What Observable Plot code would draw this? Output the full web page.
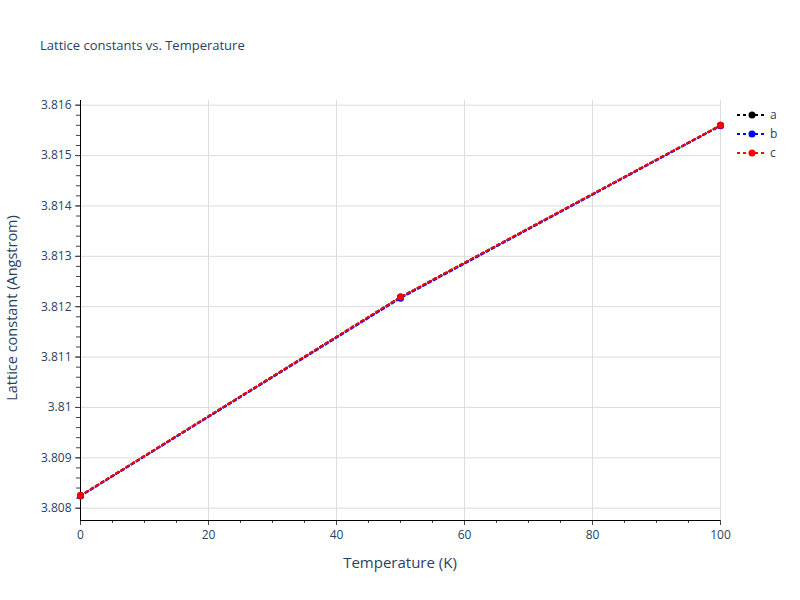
<!DOCTYPE html>
<html>
<head>
<meta charset="utf-8">
<script src="https://cdn.jsdelivr.net/npm/d3@7"></script>
<script src="https://cdn.jsdelivr.net/npm/@observablehq/plot@0.6"></script>
<style>
  html, body { margin: 0; padding: 0; background: #fff; }
  #wrap { position: relative; width: 800px; height: 600px; font-family: "Open Sans", verdana, arial, sans-serif; color: #2a3f5f; }
  #wrap svg.plot { position: absolute; left: 0; top: 0; }
  .title { position: absolute; left: 40px; top: 36px; font-size: 13px; white-space: nowrap; }
  .xlabel { position: absolute; left: 0; width: 800px; top: 552px; text-align: center; font-size: 15px; }
  .ylabel { position: absolute; left: 11px; top: 308px; font-size: 14.5px; white-space: nowrap; transform: translate(-50%, -50%) rotate(-90deg); }
  #legend { position: absolute; left: 733px; top: 105px; }
</style>
</head>
<body>
<div id="wrap">
  <div class="title">Lattice constants vs. Temperature</div>
  <div class="xlabel">Temperature (K)</div>
  <div class="ylabel">Lattice constant (Angstrom)</div>
  <div id="legend"></div>
</div>
<script>
const temperatures = [0, 50, 100];
const seriesA = [3.80825, 3.81219, 3.81560];
const seriesB = [3.80824, 3.81217, 3.81559];
const seriesC = [3.80825, 3.81219, 3.81560];
const seriesNames = ["a", "b", "c"];
const seriesColors = ["#000000", "#0000ff", "#ff0000"];
const xTicks = [0, 20, 40, 60, 80, 100];
const yTicks = [3.808, 3.809, 3.810, 3.811, 3.812, 3.813, 3.814, 3.815, 3.816];
const xDomain = [0, 100];
const yDomain = [3.807756, 3.816093];

const allSeries = [seriesA, seriesB, seriesC];
const rows = [];
allSeries.forEach((vals, s) => {
  vals.forEach((v, i) => rows.push({series: seriesNames[s], T: temperatures[i], L: v}));
});

const xMinor = d3.range(0, 100.001, 5);
const yMinor = d3.range(0, 41).map(i => +(3.808 + i * 0.0002).toFixed(4)).filter(v => v >= yDomain[0] && v <= yDomain[1]);

const fmtY = d => String(+d.toFixed(3));

const marks = [
  Plot.gridY(yTicks, {stroke: "#dcdcdc", strokeOpacity: 1, strokeWidth: 1}),
  Plot.gridX(xTicks, {stroke: "#dcdcdc", strokeOpacity: 1, strokeWidth: 1}),
  Plot.axisX(xMinor, {tickSize: 3, text: null, stroke: "#444", label: null}),
  Plot.axisY(yMinor, {tickSize: 4, text: null, stroke: "#444", label: null}),
  Plot.axisX(xTicks, {tickSize: 5, tickPadding: 5, stroke: "#444", fill: "#2a3f5f", fontSize: 12, label: null, tickFormat: d => String(d)}),
  Plot.axisY(yTicks, {tickSize: 5, tickPadding: 4, stroke: "#444", fill: "#2a3f5f", fontSize: 12, label: null, tickFormat: fmtY}),
  Plot.ruleX([xDomain[0]], {stroke: "#000", strokeWidth: 1}),
  Plot.ruleY([yDomain[0]], {stroke: "#000", strokeWidth: 1})
];
seriesNames.forEach((name, s) => {
  const data = rows.filter(r => r.series === name);
  marks.push(Plot.line(data, {x: "T", y: "L", stroke: seriesColors[s], strokeWidth: 2, strokeDasharray: "3,3", clip: false}));
  marks.push(Plot.dot(data, {x: "T", y: "L", fill: seriesColors[s], r: 3.5, stroke: "none"}));
});

const chart = Plot.plot({
  width: 800,
  height: 600,
  marginLeft: 80,
  marginRight: 80,
  marginTop: 100,
  marginBottom: 80,
  style: {fontFamily: '"Open Sans", verdana, arial, sans-serif', fontSize: "12px", color: "#2a3f5f", background: "transparent"},
  x: {domain: xDomain, axis: null},
  y: {domain: yDomain, axis: null},
  marks
});
chart.classList.add("plot");
document.getElementById("wrap").prepend(chart);

// legend
const lg = d3.select("#legend").append("svg").attr("width", 67).attr("height", 60)
  .style("font-family", '"Open Sans", verdana, arial, sans-serif');
seriesNames.forEach((name, i) => {
  const g = lg.append("g").attr("transform", `translate(0, ${10 + i * 19})`);
  g.append("line").attr("x1", 4).attr("x2", 32).attr("y1", 0).attr("y2", 0)
    .attr("stroke", seriesColors[i]).attr("stroke-width", 2).attr("stroke-dasharray", "3,3");
  g.append("circle").attr("cx", 19).attr("cy", 0).attr("r", 3.5).attr("fill", seriesColors[i]);
  g.append("text").attr("x", 37).attr("y", 0).attr("dy", "0.35em").attr("font-size", 12)
    .attr("fill", "#2a3f5f").text(name);
});
</script>
</body>
</html>
